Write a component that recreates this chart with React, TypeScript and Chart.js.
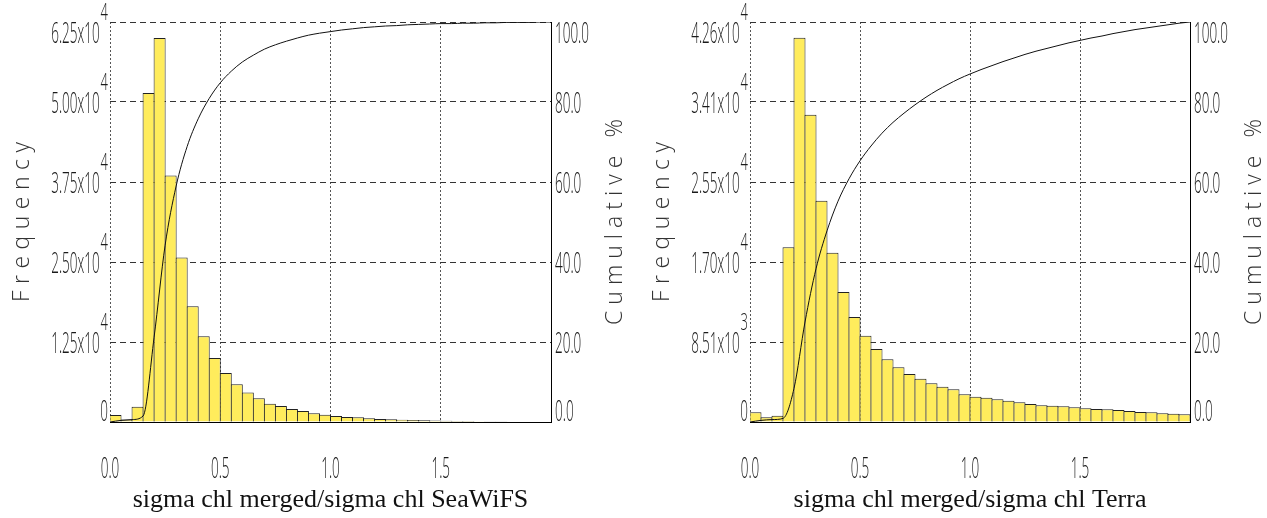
import React, { useEffect, useRef } from 'react';
import { Chart, registerables } from 'chart.js';

Chart.register(...registerables);

// Histogram bin centres (bin width 0.05)
const binCenters = [
  0.025, 0.075, 0.125, 0.175, 0.225, 0.275, 0.325, 0.375, 0.425, 0.475,
  0.525, 0.575, 0.625, 0.675, 0.725, 0.775, 0.825, 0.875, 0.925, 0.975,
  1.025, 1.075, 1.125, 1.175, 1.225, 1.275, 1.325, 1.375, 1.425, 1.475,
  1.525, 1.575, 1.625, 1.675, 1.725, 1.775, 1.825, 1.875, 1.925, 1.975,
];

// Bin edges for the cumulative curve
const binEdges = [
  0, 0.05, 0.1, 0.15, 0.2, 0.25, 0.3, 0.35, 0.4, 0.45,
  0.5, 0.55, 0.6, 0.65, 0.7, 0.75, 0.8, 0.85, 0.9, 0.95,
  1.0, 1.05, 1.1, 1.15, 1.2, 1.25, 1.3, 1.35, 1.4, 1.45,
  1.5, 1.55, 1.6, 1.65, 1.7, 1.75, 1.8, 1.85, 1.9, 1.95, 2.0,
];

const seawifsFreq = [
  1100, 400, 2400, 51400, 60000, 38500, 25700, 18100, 13400, 10000,
  7650, 5900, 4600, 3700, 2860, 2500, 2030, 1720, 1360, 1140,
  940, 780, 730, 580, 470, 420, 360, 300, 260, 230,
  190, 170, 150, 130, 110, 100, 90, 80, 70, 60,
];

const seawifsCum = [
  0, 0.4, 0.6, 1.5, 21.2, 44.2, 59.0, 68.9, 75.8, 80.9,
  84.8, 87.7, 90.0, 91.7, 93.2, 94.3, 95.2, 96.0, 96.7, 97.2,
  97.6, 98.0, 98.3, 98.6, 98.8, 99.0, 99.1, 99.3, 99.4, 99.5,
  99.6, 99.6, 99.7, 99.7, 99.8, 99.8, 99.9, 99.9, 99.9, 100, 100,
];

const terraFreq = [
  1030, 500, 670, 18600, 40880, 32700, 23540, 18010, 13830, 11170,
  9180, 7770, 6670, 5820, 5110, 4610, 4120, 3760, 3480, 2950,
  2690, 2590, 2410, 2270, 2090, 1910, 1770, 1730, 1670, 1560,
  1450, 1380, 1350, 1280, 1170, 1060, 1030, 930, 880, 820,
];

const terraCum = [
  0, 0.4, 0.6, 0.9, 8.4, 25.0, 38.3, 47.8, 55.2, 60.8,
  65.3, 69.0, 72.2, 74.9, 77.2, 79.3, 81.2, 82.9, 84.4, 85.8,
  87.0, 88.1, 89.1, 90.1, 91.0, 91.9, 92.7, 93.4, 94.1, 94.8,
  95.4, 96.0, 96.5, 97.1, 97.6, 98.1, 98.5, 98.9, 99.3, 99.7, 100,
];

const seawifsFreqTicks = [0, 12500, 25000, 37500, 50000, 62500];
const seawifsFreqLabels = ['0', '1.25x10^4', '2.50x10^4', '3.75x10^4', '5.00x10^4', '6.25x10^4'];

const terraFreqTicks = [0, 8512.5, 17025, 25537.5, 34050, 42562.5];
const terraFreqLabels = ['0', '8.51x10^3', '1.70x10^4', '2.55x10^4', '3.41x10^4', '4.26x10^4'];

const cumTicks = [0, 20, 40, 60, 80, 100];
const cumLabels = ['0.0', '20.0', '40.0', '60.0', '80.0', '100.0'];

const xGridValues = [0, 0.5, 1.0, 1.5, 2.0];
const xTickValues = [0, 0.5, 1.0, 1.5];
const xTickLabels = ['0.0', '0.5', '1.0', '1.5'];

const freqTitle = 'Frequency';
const cumTitle = 'Cumulative %';

type HistProps = {
  width: number;
  height: number;
  plotLeft: number;
  plotRight: number;
  plotTop: number;
  plotBottom: number;
  freq: number[];
  cum: number[];
  freqTicks: number[];
  freqLabels: string[];
  xTitle: string;
};

const MAIN_FONT = "300 30px 'Open Sans', 'Liberation Sans', Arial, sans-serif";
const SUP_FONT = "300 24px 'Open Sans', 'Liberation Sans', Arial, sans-serif";

function makeTextPlugin(p: HistProps) {
  return {
    id: 'idlText',
    afterDraw(chart: any) {
      const ctx: CanvasRenderingContext2D = chart.ctx;
      const ca = chart.chartArea;
      const ys = chart.scales.y;
      const y1 = chart.scales.y1;
      const xs = chart.scales.x;
      ctx.save();
      ctx.fillStyle = '#1a1a1a';
      ctx.font = MAIN_FONT;
      const sx = 7.7 / ctx.measureText('0').width;
      const measure = (t: string, font: string, k = 1) => {
        ctx.font = font;
        return ctx.measureText(t).width * sx * k;
      };
      const draw = (t: string, font: string, x: number, y: number, k = 1) => {
        ctx.save();
        ctx.font = font;
        ctx.textAlign = 'left';
        ctx.textBaseline = 'alphabetic';
        ctx.translate(x, y);
        ctx.scale(sx * k, 1);
        ctx.fillText(t, 0, 0);
        ctx.restore();
      };
      const baseFor = (py: number, i: number, n: number) =>
        i === 0 ? py - 1 : i === n - 1 ? py + 21 : py + 11;

      // left frequency labels
      const n = p.freqTicks.length;
      const supK = 1.2;
      p.freqTicks.forEach((v, i) => {
        const py = ys.getPixelForValue(v);
        const [m, e] = p.freqLabels[i].split('^');
        const mw = measure(m, MAIN_FONT);
        const ew = e ? measure(e, SUP_FONT, supK) + 1 : 0;
        const right = ca.left - 2;
        const b = baseFor(py, i, n);
        draw(m, MAIN_FONT, right - ew - mw, b);
        if (e) draw(e, SUP_FONT, right - ew + 1, b - 23, supK);
      });

      // right cumulative labels
      cumTicks.forEach((v, i) => {
        const py = y1.getPixelForValue(v);
        const b = baseFor(py, i, cumTicks.length);
        draw(cumLabels[i], MAIN_FONT, ca.right + 4, b);
      });

      // x labels
      xTickValues.forEach((v, i) => {
        const px = xs.getPixelForValue(v);
        const w = measure(xTickLabels[i], MAIN_FONT);
        draw(xTickLabels[i], MAIN_FONT, px - w / 2, ca.bottom + 56);
      });

      // rotated titles
      const drawRotated = (text: string, target: number, baseX: number, cy: number) => {
        ctx.save();
        ctx.font = "300 23px 'Open Sans', 'Noto Sans', 'DejaVu Sans', sans-serif";
        ctx.fillStyle = '#333';
        const nat = ctx.measureText(text).width;
        const sp = (target - nat) / (text.length - 1);
        (ctx as any).letterSpacing = sp + 'px';
        ctx.textAlign = 'left';
        ctx.textBaseline = 'alphabetic';
        ctx.translate(baseX, cy);
        ctx.rotate(-Math.PI / 2);
        ctx.fillText(text, -target / 2, 0);
        ctx.restore();
      };
      const cy = (ca.top + ca.bottom) / 2;
      drawRotated(freqTitle, 160, ca.left - 81, cy);
      drawRotated(cumTitle, 206, ca.right + 71, cy);

      // x title
      ctx.save();
      ctx.font = "26px 'Liberation Serif', 'Times New Roman', serif";
      ctx.fillStyle = '#111';
      ctx.textAlign = 'center';
      ctx.textBaseline = 'alphabetic';
      ctx.fillText(p.xTitle, (ca.left + ca.right) / 2, ca.bottom + 85);
      ctx.restore();

      ctx.restore();
    },
  };
}

function HistChart(p: HistProps) {
  const ref = useRef<HTMLCanvasElement | null>(null);
  useEffect(() => {
    if (!ref.current) return;
    const freqMax = p.freqTicks[p.freqTicks.length - 1];
    const chart = new Chart(ref.current, {
      type: 'bar',
      data: {
        datasets: [
          {
            type: 'line',
            data: binEdges.map((x, i) => ({ x, y: p.cum[i] })),
            yAxisID: 'y1',
            xAxisID: 'x',
            borderColor: '#111',
            borderWidth: 1,
            pointRadius: 0,
            cubicInterpolationMode: 'monotone',
            fill: false,
            order: 0,
          } as any,
          {
            type: 'bar',
            data: binCenters.map((x, i) => ({ x, y: p.freq[i] })),
            yAxisID: 'y',
            xAxisID: 'x',
            backgroundColor: '#FFEC5C',
            borderColor: '#222',
            borderWidth: 1,
            borderSkipped: 'start',
            barPercentage: 12 / 11,
            categoryPercentage: 1,
            order: 1,
          } as any,
        ],
      },
      options: {
        responsive: false,
        maintainAspectRatio: false,
        animation: false,
        layout: { padding: { top: p.plotTop, left: 0, right: 0, bottom: 0 } },
        plugins: { legend: { display: false }, tooltip: { enabled: false } },
        scales: {
          x: {
            type: 'linear',
            min: 0,
            max: 2,
            offset: false,
            afterBuildTicks: (s: any) => {
              s.ticks = xGridValues.map((v) => ({ value: v }));
            },
            afterFit: (s: any) => {
              s.height = p.height - p.plotBottom;
            },
            ticks: { display: false },
            grid: { display: true, color: '#555', lineWidth: 1, drawTicks: false, offset: false },
            border: { display: true, color: '#000', width: 1, dash: [2, 2] },
          },
          y: {
            type: 'linear',
            position: 'left',
            min: 0,
            max: freqMax,
            afterBuildTicks: (s: any) => {
              s.ticks = p.freqTicks.map((v) => ({ value: v }));
            },
            afterFit: (s: any) => {
              s.width = p.plotLeft;
            },
            ticks: { display: false },
            grid: { display: true, color: '#333', lineWidth: 1, drawTicks: false },
            border: { display: false, dash: [6, 4] },
          },
          y1: {
            type: 'linear',
            position: 'right',
            min: 0,
            max: 100,
            afterBuildTicks: (s: any) => {
              s.ticks = cumTicks.map((v) => ({ value: v }));
            },
            afterFit: (s: any) => {
              s.width = p.width - p.plotRight;
            },
            ticks: { display: false },
            grid: { display: false, drawTicks: false },
            border: { display: true, color: '#000', width: 1 },
          },
        },
      } as any,
      plugins: [makeTextPlugin(p) as any],
    });
    return () => chart.destroy();
  }, []);
  return <canvas ref={ref} width={p.width} height={p.height} style={{ display: 'block' }} />;
}

export default function App() {
  return (
    <div style={{ position: 'absolute', left: 0, top: 0, width: 1267, height: 518, background: '#fff' }}>
      <div style={{ position: 'absolute', left: 0, top: 0 }}>
        <HistChart
          width={640}
          height={518}
          plotLeft={110}
          plotRight={551}
          plotTop={22}
          plotBottom={422}
          freq={seawifsFreq}
          cum={seawifsCum}
          freqTicks={seawifsFreqTicks}
          freqLabels={seawifsFreqLabels}
          xTitle="sigma chl merged/sigma chl SeaWiFS"
        />
      </div>
      <div style={{ position: 'absolute', left: 640, top: 0 }}>
        <HistChart
          width={627}
          height={518}
          plotLeft={110}
          plotRight={550}
          plotTop={22}
          plotBottom={422}
          freq={terraFreq}
          cum={terraCum}
          freqTicks={terraFreqTicks}
          freqLabels={terraFreqLabels}
          xTitle="sigma chl merged/sigma chl Terra"
        />
      </div>
    </div>
  );
}
